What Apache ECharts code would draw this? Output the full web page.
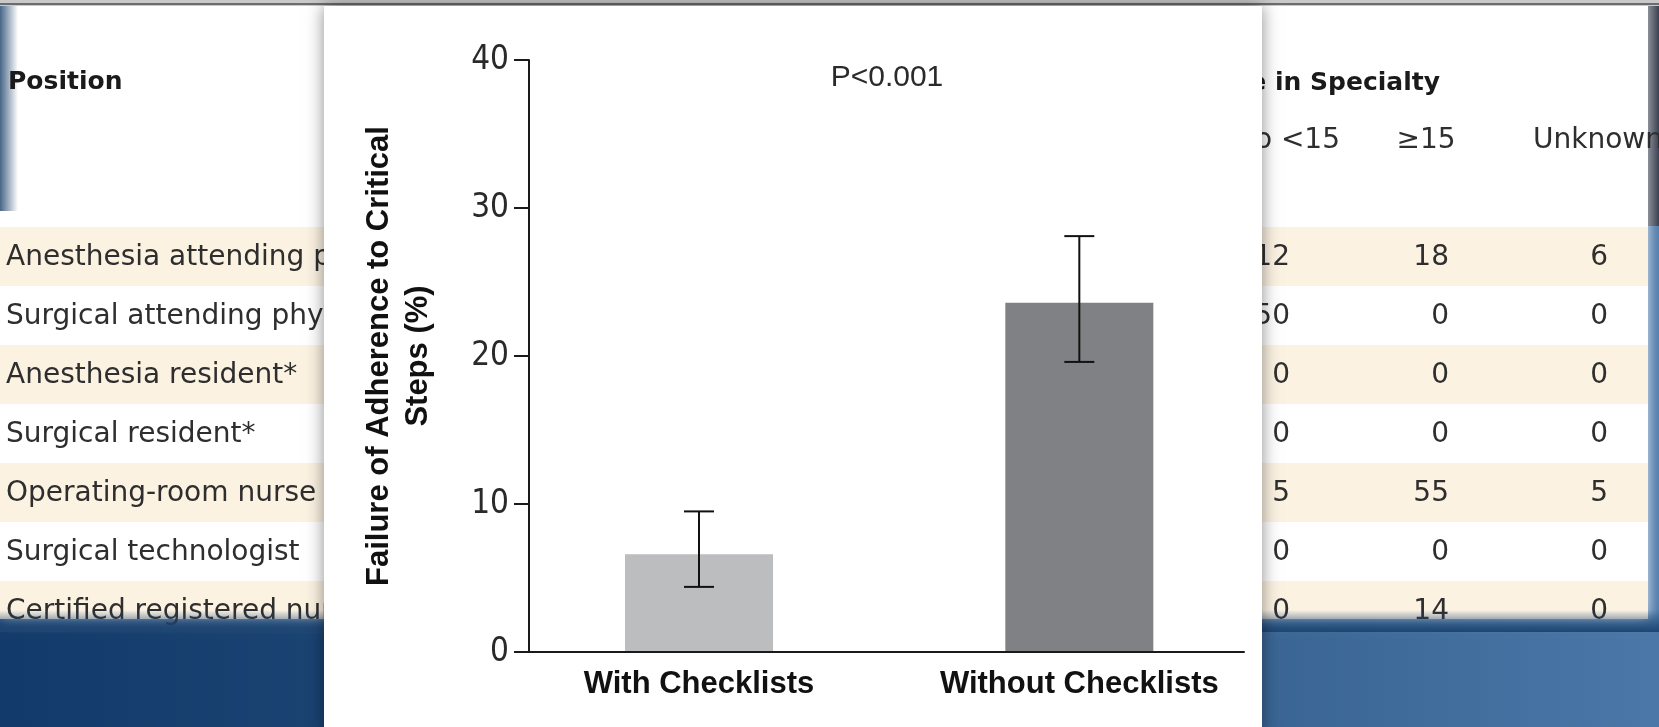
<!DOCTYPE html>
<html>
<head>
<meta charset="utf-8">
<script src="https://cdn.jsdelivr.net/npm/echarts@6/dist/echarts.min.js"></script>
<style>
html,body{margin:0;padding:0;background:#1d4576;}
#chart{width:1659px;height:727px;}
</style>
</head>
<body>
<div id="chart"></div>
<script>
// ---- chart data ----
const categories = ['With Checklists', 'Without Checklists'];
const failurePct = [6.6, 23.6];
const errorLow = [4.4, 19.6];
const errorHigh = [9.5, 28.1];
const yTicks = [0, 10, 20, 30, 40];
const pValueText = 'P<0.001';

// ---- background table (text behind the chart panel) ----
const tableHeaderLeft = 'Position';
const tableHeaderRight = 'e in Specialty';
const tableSubHeaders = ['o <15', '≥15', 'Unknown'];
const positions = ['Anesthesia attending p', 'Surgical attending phys', 'Anesthesia resident*',
  'Surgical resident*', 'Operating-room nurse', 'Surgical technologist', 'Certified registered nur'];
const colA = ['12', '50', '0', '0', '5', '0', '0'];
const colB = ['18', '0', '0', '0', '55', '0', '14'];
const colC = ['6', '0', '0', '0', '5', '0', '0'];

const barColors = ['#bcbdbf', '#808184'];

const rowTop = 227, rowH = 59;
const bg = [];
// blue page background
bg.push({type:'rect', z:0, shape:{x:0,y:0,width:1659,height:727},
  style:{fill:{type:'linear',x:0,y:0,x2:1,y2:0,colorStops:[{offset:0,color:'#123a6a'},{offset:0.5,color:'#27517f'},{offset:1,color:'#4a77a7'}]}}});
// left table sheet
bg.push({type:'rect', z:1, shape:{x:0,y:6,width:335,height:612},
  style:{fill:'#ffffff', shadowBlur:14, shadowColor:'rgba(255,255,255,0.9)'}});
// right table sheet
bg.push({type:'rect', z:1, shape:{x:1250,y:6,width:398,height:612},
  style:{fill:'#ffffff', shadowBlur:14, shadowColor:'rgba(255,255,255,0.9)'}});
// right dark edge strip
bg.push({type:'rect', z:1, shape:{x:1648,y:0,width:11,height:226},
  style:{fill:{type:'linear',x:0,y:0,x2:1,y2:0,colorStops:[{offset:0,color:'#8a8e96'},{offset:1,color:'#3b4150'}]}}});
// top-left blue shading
bg.push({type:'rect', z:1, shape:{x:0,y:6,width:18,height:205},
  style:{fill:{type:'linear',x:0,y:0,x2:1,y2:0,colorStops:[{offset:0,color:'rgba(40,75,115,0.85)'},{offset:1,color:'rgba(40,75,115,0)'}]}}});
// stripes
for (let i = 0; i < positions.length; i += 2) {
  const h = (i === positions.length - 1) ? 38 : rowH;
  bg.push({type:'rect', z:1, shape:{x:0,y:rowTop+i*rowH,width:335,height:h}, style:{fill:'#fcf2e2'}});
  bg.push({type:'rect', z:1, shape:{x:1250,y:rowTop+i*rowH,width:398,height:h}, style:{fill:'#fcf2e2'}});
}
const tFont = '28px "DejaVu Sans"';
const tColor = '#2e2e2e';
bg.push({type:'text', z:2, x:8, y:82, style:{text:tableHeaderLeft, font:'bold 25px "DejaVu Sans"', fill:'#1a1a1a', verticalAlign:'middle'}});
bg.push({type:'text', z:2, x:1440, y:83, style:{text:tableHeaderRight, font:'bold 25px "DejaVu Sans"', fill:'#1a1a1a', align:'right', verticalAlign:'middle'}});
bg.push({type:'text', z:2, x:1340, y:141, style:{text:tableSubHeaders[0], font:tFont, fill:tColor, align:'right', verticalAlign:'middle'}});
bg.push({type:'text', z:2, x:1426, y:141, style:{text:tableSubHeaders[1], font:tFont, fill:tColor, align:'center', verticalAlign:'middle'}});
bg.push({type:'text', z:2, x:1533, y:141, style:{text:tableSubHeaders[2], font:tFont, fill:tColor, verticalAlign:'middle'}});
positions.forEach((p, i) => {
  const yc = rowTop + i * rowH + 31;
  bg.push({type:'text', z:2, x:6, y:yc, style:{text:p, font:tFont, fill:tColor, verticalAlign:'middle'}});
  bg.push({type:'text', z:2, x:1290, y:yc, style:{text:colA[i], font:tFont, fill:tColor, align:'right', verticalAlign:'middle'}});
  bg.push({type:'text', z:2, x:1449, y:yc, style:{text:colB[i], font:tFont, fill:tColor, align:'right', verticalAlign:'middle'}});
  bg.push({type:'text', z:2, x:1608, y:yc, style:{text:colC[i], font:tFont, fill:tColor, align:'right', verticalAlign:'middle'}});
});
// fade of table bottoms into blue
bg.push({type:'rect', z:2, shape:{x:0,y:610,width:1659,height:22},
  style:{fill:{type:'linear',x:0,y:0,x2:0,y2:1,colorStops:[{offset:0,color:'rgba(30,70,115,0)'},{offset:1,color:'rgba(30,70,115,1)'}]}}});
// top grey strip
bg.push({type:'rect', z:3, shape:{x:0,y:0,width:1659,height:6}, style:{fill:'#c9c9c9'}});
bg.push({type:'rect', z:3, shape:{x:0,y:3,width:1659,height:2}, style:{fill:'#6c6c6c'}});
// white chart panel
bg.push({type:'rect', z:4, shape:{x:324,y:6,width:938,height:730},
  style:{fill:'#ffffff', shadowBlur:16, shadowColor:'rgba(0,0,0,0.45)'}});
// p-value annotation
bg.push({type:'text', z:6, x:887, y:78, style:{text:pValueText, font:'30px "Liberation Sans"', fill:'#2a2a2a', align:'center', verticalAlign:'middle'}});

const chart = echarts.init(document.getElementById('chart'), null, {renderer:'canvas'});
chart.setOption({
  animation:false,
  backgroundColor:'transparent',
  graphic:{elements:bg},
  grid:{left:529, right:415, top:60, bottom:75, containLabel:false},
  xAxis:{
    type:'value', min:-0.447, max:1.433, z:10,
    axisLine:{show:true, onZero:false, lineStyle:{color:'#1a1a1a', width:2}},
    axisTick:{show:false},
    splitLine:{show:false},
    axisLabel:{
      customValues:[0, 1],
      formatter:(v) => categories[Math.round(v)],
      fontFamily:'Liberation Sans', fontWeight:'bold', fontSize:31, color:'#111', margin:17
    }
  },
  yAxis:{
    type:'value', min:yTicks[0], max:yTicks[yTicks.length-1], interval:10, z:10,
    name:'Failure of Adherence to Critical\nSteps (%)',
    nameLocation:'middle', nameRotate:90, nameGap:91,
    nameTextStyle:{fontFamily:'Liberation Sans', fontWeight:'bold', fontSize:31, lineHeight:39, color:'#111', align:'center'},
    axisLine:{show:true, onZero:false, lineStyle:{color:'#1a1a1a', width:2}},
    axisTick:{show:true, length:15, lineStyle:{color:'#1a1a1a', width:2}},
    splitLine:{show:false},
    axisLabel:{fontFamily:'"Liberation Sans Narrow", "DejaVu Sans Condensed", "Liberation Sans"', fontSize:33, color:'#2a2a2a', margin:20}
  },
  series:[
    {
      type:'bar', z:8, barWidth:148,
      data: failurePct.map((v, i) => ({value:[i, v], itemStyle:{color:barColors[i]}}))
    },
    {
      type:'custom', z:9,
      data: failurePct.map((v, i) => [i, errorLow[i], errorHigh[i]]),
      encode:{x:0, y:[1, 2]},
      renderItem:(params, api) => {
        const x = api.value(0);
        const lo = api.coord([x, api.value(1)]);
        const hi = api.coord([x, api.value(2)]);
        const hw = 15;
        const st = {stroke:'#111', lineWidth:2};
        return {type:'group', children:[
          {type:'line', shape:{x1:hi[0], y1:hi[1], x2:lo[0], y2:lo[1]}, style:st},
          {type:'line', shape:{x1:hi[0]-hw, y1:hi[1], x2:hi[0]+hw, y2:hi[1]}, style:st},
          {type:'line', shape:{x1:lo[0]-hw, y1:lo[1], x2:lo[0]+hw, y2:lo[1]}, style:st}
        ]};
      }
    }
  ]
});
</script>
</body>
</html>
